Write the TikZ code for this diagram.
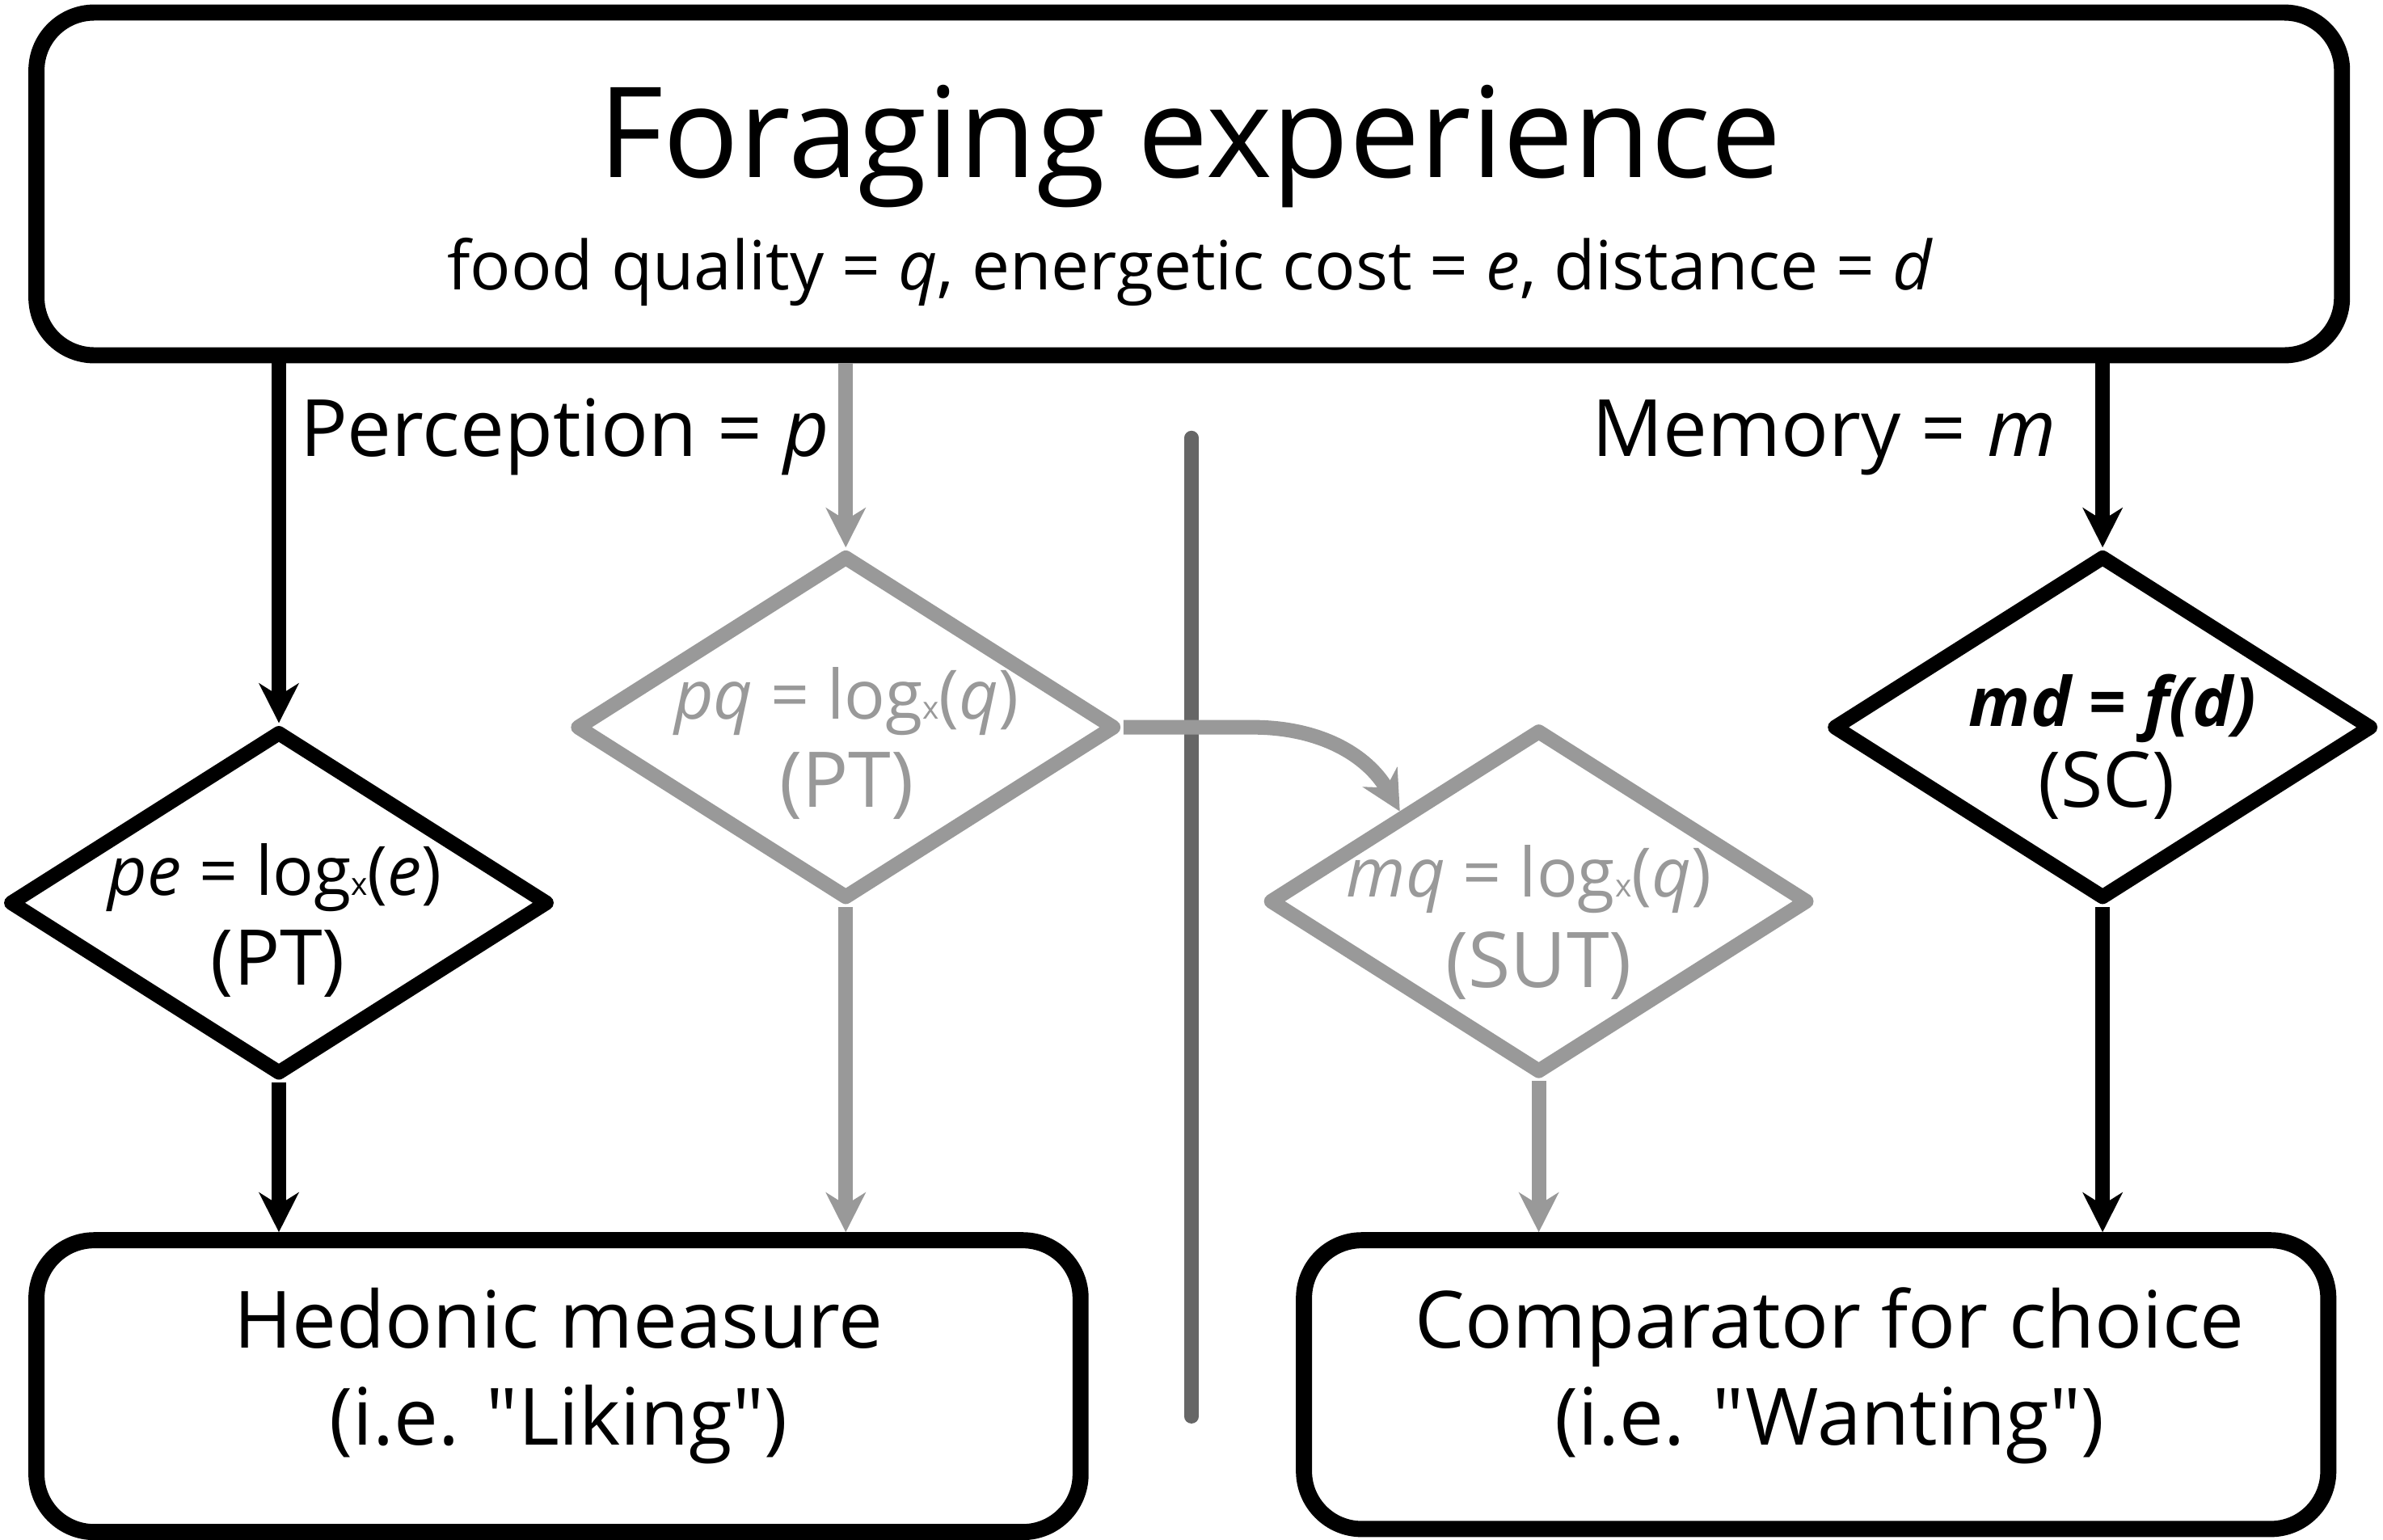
\documentclass[tikz,border=0pt]{standalone}
\usepackage{fontspec}
\setmainfont{Open Sans}[Ligatures=TeXOff]
\usetikzlibrary{shapes.geometric,arrows.meta}
\definecolor{lgray}{HTML}{999999}
\definecolor{dgray}{HTML}{666666}
\newcommand{\smallx}{{\fontsize{10.3pt}{12pt}\selectfont x}}
\tikzset{
  box/.style={draw=black, line width=5.3pt, rounded corners=19pt, inner sep=0pt},
  dia/.style={draw, diamond, line width=4.8pt, line join=round, inner sep=0pt,
              minimum width=178pt, minimum height=113.5pt},
  blackdia/.style={dia, draw=black},
  graydia/.style={dia, draw=lgray},
  arr/.style={line width=4.8pt, -{Stealth[length=13pt,width=13pt,inset=4pt]}},
  blackarr/.style={arr, draw=black},
  grayarr/.style={arr, draw=lgray},
  sepline/.style={line width=4.6pt, draw=dgray, line cap=round},
  txt/.style={anchor=base, inner sep=0pt, font=\fontsize{26pt}{30pt}\selectfont},
  formtxt/.style={anchor=base, inner sep=0pt, font=\fontsize{22.4pt}{27pt}\selectfont},
  tagtxt/.style={anchor=base, inner sep=0pt, font=\fontsize{25.3pt}{30pt}\selectfont},
  titletxt/.style={anchor=base, inner sep=0pt, font=\fontsize{41.4pt}{48pt}\selectfont},
  subtxt/.style={anchor=base, inner sep=0pt, font=\fontsize{22.3pt}{26pt}\selectfont},
}
\begin{document}
\begin{tikzpicture}[x=0.5pt,y=-0.5pt]
\useasboundingbox (0,0) rectangle (1568,1013.2);

% boxes
\node[box, minimum width=758.5pt, minimum height=112.75pt] (top) at (782.5,121) {};
\node[box, minimum width=343.5pt, minimum height=96pt] (hed) at (367.5,912) {};
\node[box, minimum width=337pt, minimum height=95pt] (cmp) at (1195,911) {};

% diamonds
\node[blackdia] (d1) at (183.5,594) {};
\node[graydia] (d2) at (556.5,478.5) {};
\node[graydia] (d3) at (1012.5,593) {};
\node[blackdia] (d4) at (1383.5,478.5) {};

% separator
\draw[sepline] (784,288) -- (784,932);

% connectors
\draw[blackarr] (d1.north |- top.south) -- (d1.north);
\draw[blackarr] (d1.south) -- (d1.south |- hed.north);
\draw[grayarr] (d2.north |- top.south) -- (d2.north);
\draw[grayarr] (d2.south) -- (d2.south |- hed.north);
\draw[grayarr] (d2.east) -- ++(85,0) to[out=0,in=120] (d3.north west);
\draw[grayarr] (d3.south) -- (d3.south |- cmp.north);
\draw[blackarr] (d4.north |- top.south) -- (d4.north);
\draw[blackarr] (d4.south) -- (d4.south |- cmp.north);

% texts
\node[titletxt] (t1) at (783,116.5) {Foraging experience};
\node[subtxt] (t2) at (783,190.6) {food quality = \textit{q}, energetic cost = \textit{e}, distance = \textit{d}};
\node[txt, anchor=base west] (perc) at (197,300) {Perception = \textit{p}};
\node[txt, anchor=base west] (mem) at (1047,300) {Memory = \textit{m}};

\node[formtxt] (d1a) at (181,589) {\textit{pe} = log\smallx(\textit{e})};
\node[tagtxt] (d1b) at (183,648) {(PT)};
\node[formtxt, text=lgray] (d2a) at (557,473) {\textit{pq} = log\smallx(\textit{q})};
\node[tagtxt, text=lgray] (d2b) at (557,531) {(PT)};
\node[formtxt, text=lgray] (d3a) at (1006,590) {\textit{mq} = log\smallx(\textit{q})};
\node[tagtxt, text=lgray] (d3b) at (1012.5,649.6) {(SUT)};
\node[formtxt] (d4a) at (1390,478) {\textbf{\textit{md = f(d)}}};
\node[tagtxt] (d4b) at (1386,531) {(SC)};

\node[txt] (h1) at (367.5,887) {Hedonic measure};
\node[txt] (h2) at (367.5,950.5) {(i.e. "Liking")};
\node[txt] (c1) at (1204,887) {Comparator for choice};
\node[txt] (c2) at (1204,950.5) {(i.e. "Wanting")};
\end{tikzpicture}
\end{document}
